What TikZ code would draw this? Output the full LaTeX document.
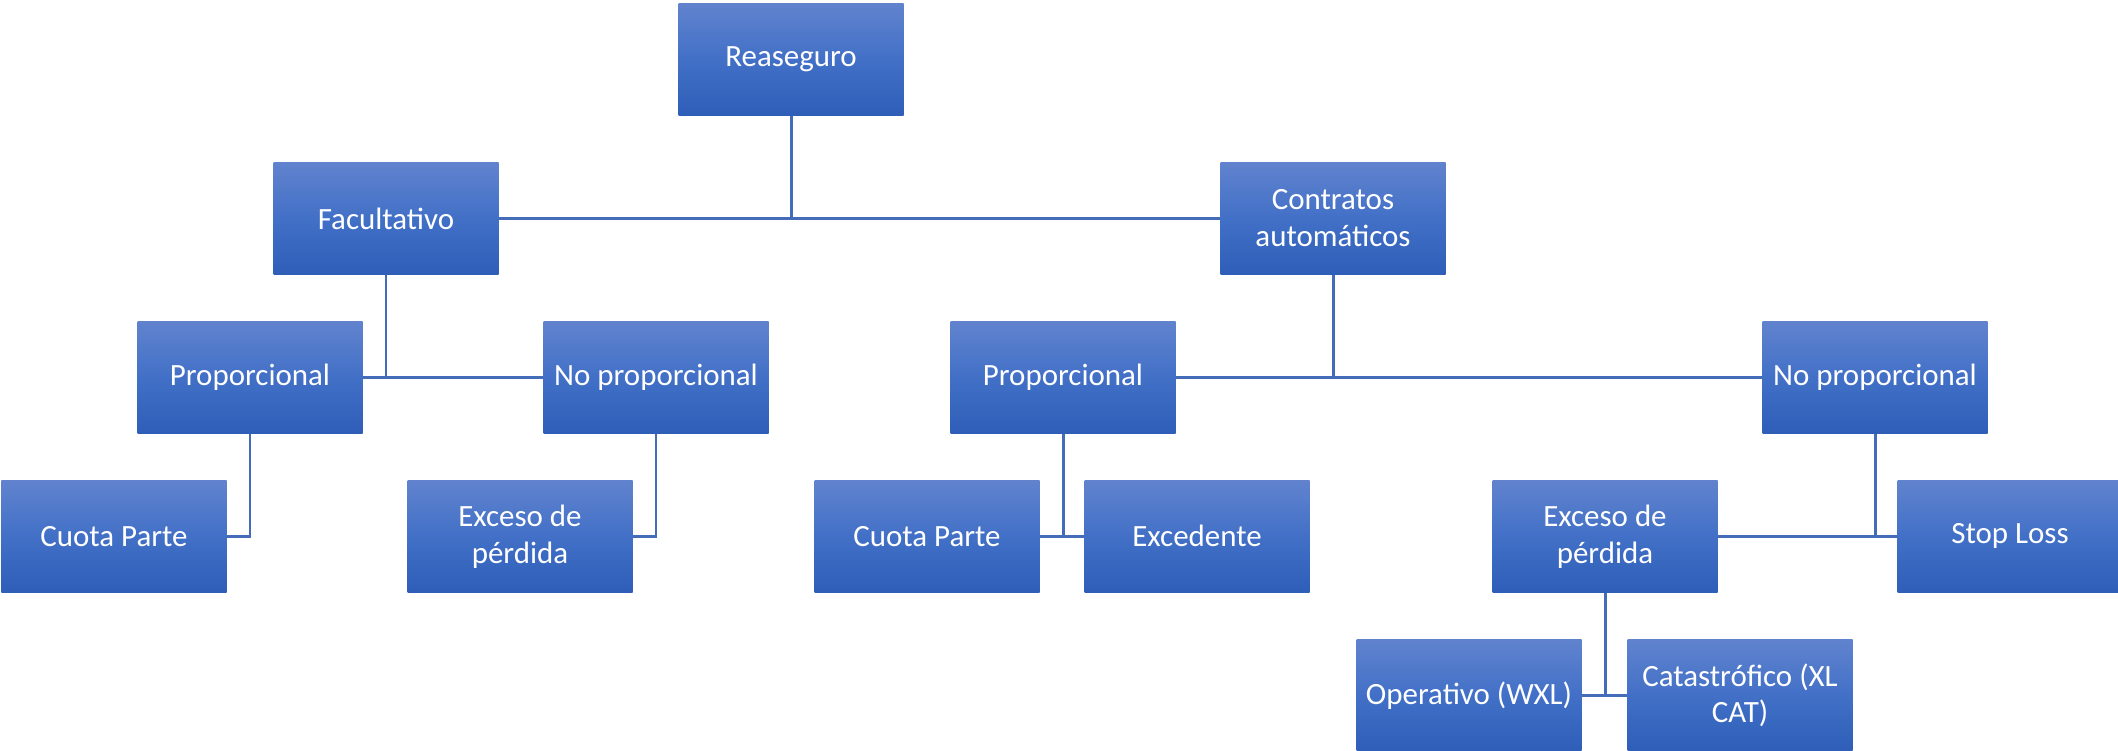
\documentclass[tikz,border=0pt]{standalone}
\usepackage{fontspec}
\setmainfont{Carlito}
\usepackage{xcolor}
\usepackage{tikz}
\usetikzlibrary{positioning}
\definecolor{boxtop}{RGB}{97,131,206}
\definecolor{boxmid}{RGB}{66,112,199}
\definecolor{boxbot}{RGB}{46,94,184}
\definecolor{linkblue}{RGB}{68,108,184}

\begin{document}
\begin{tikzpicture}[
    node distance=0.925cm,
    font=\fontsize{17.6}{21}\selectfont,
    org_box/.style={rectangle, minimum width=4.5cm, minimum height=2.24cm, inner sep=2pt, align=center, text=white,
                    top color=boxtop, bottom color=boxbot, middle color=boxmid},
    link/.style={draw=linkblue, line width=1.7pt}
]
\useasboundingbox (0,0) rectangle (42.36,-15.02);

\node (rea) [org_box] at (15.82,-1.19) {Reaseguro};

\node (fac) [org_box, below=of rea, xshift=-8.1cm]  {Facultativo};
\node (con) [org_box, below=of rea, xshift=10.84cm] {Contratos\\automáticos};

\node (propL)  [org_box, below=of fac, xshift=-2.72cm] {Proporcional};
\node (noproL) [org_box, below=of fac, xshift=5.4cm]   {No proporcional};
\node (propM)  [org_box, below=of con, xshift=-5.4cm]  {Proporcional};
\node (noproR) [org_box, below=of con, xshift=10.84cm] {No proporcional};

\node (cuotaL) [org_box, below=of propL, xshift=-2.72cm]  {Cuota Parte};
\node (excL)   [org_box, below=of noproL, xshift=-2.72cm] {Exceso de\\pérdida};
\node (cuotaM) [org_box, below=of propM, xshift=-2.72cm]  {Cuota Parte};
\node (exced)  [org_box, below=of propM, xshift=2.68cm]   {Excedente};
\node (excR)   [org_box, below=of noproR, xshift=-5.4cm]  {Exceso de\\pérdida};
\node (stop)   [org_box, below=of noproR, xshift=2.7cm]   {Stop Loss};

\node (oper) [org_box, below=of excR, xshift=-2.72cm] {Operativo (WXL)};
\node (cat)  [org_box, below=of excR, xshift=2.7cm]   {Catastrófico (XL\\CAT)};

\draw [link] (rea.south) -- (rea.south |- fac.east);
\draw [link] (fac.east) -- (con.west);
\draw [link] (fac.south) -- (fac.south |- propL.east);
\draw [link] (propL.east) -- (noproL.west);
\draw [link] (con.south) -- (con.south |- propM.east);
\draw [link] (propM.east) -- (noproR.west);
\draw [link] (propL.south) |- (cuotaL.east);
\draw [link] (noproL.south) |- (excL.east);
\draw [link] (propM.south) -- (propM.south |- cuotaM.east);
\draw [link] (cuotaM.east) -- (exced.west);
\draw [link] (noproR.south) -- (noproR.south |- excR.east);
\draw [link] (excR.east) -- (stop.west);
\draw [link] (excR.south) -- (excR.south |- oper.east);
\draw [link] (oper.east) -- (cat.west);

\end{tikzpicture}
\end{document}
